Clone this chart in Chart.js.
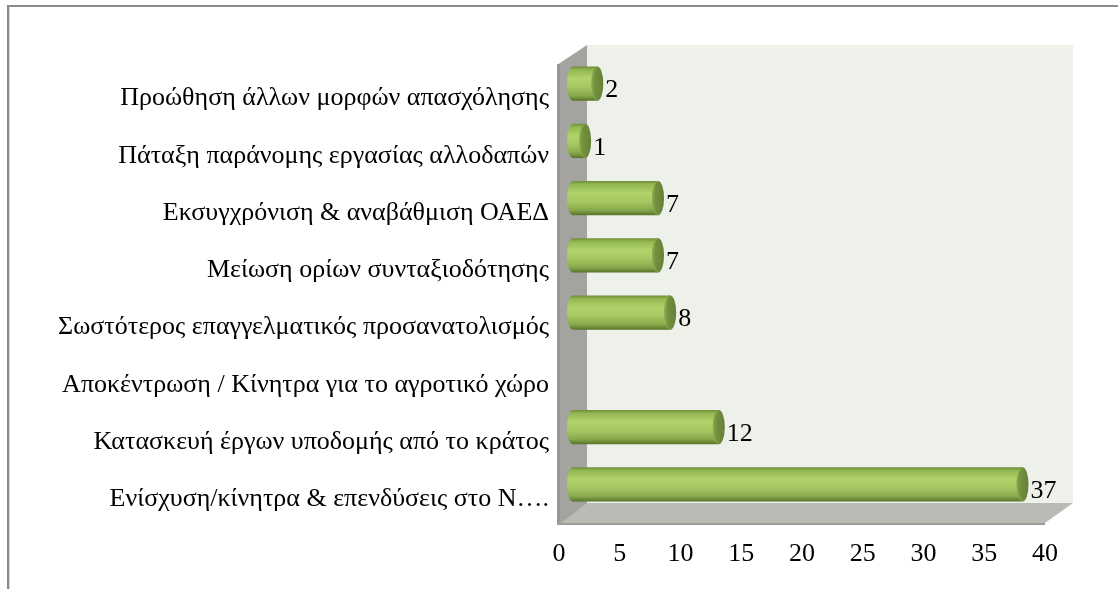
<!DOCTYPE html>
<html>
<head>
<meta charset="utf-8">
<script src="https://cdn.jsdelivr.net/npm/chart.js@4/dist/chart.umd.min.js"></script>
<style>
  html, body { margin: 0; padding: 0; background: #ffffff; }
  #wrap { width: 1118px; height: 589px; position: relative; }
</style>
</head>
<body>
<div id="wrap"><canvas id="c" width="1118" height="589"></canvas></div>
<script>
// Measures, top to bottom
const categories = [
  'Προώθηση άλλων μορφών απασχόλησης',
  'Πάταξη παράνομης εργασίας αλλοδαπών',
  'Εκσυγχρόνιση & αναβάθμιση ΟΑΕΔ',
  'Μείωση ορίων συνταξιοδότησης',
  'Σωστότερος επαγγελματικός προσανατολισμός',
  'Αποκέντρωση / Κίνητρα για το αγροτικό χώρο',
  'Κατασκευή έργων υποδομής από το κράτος',
  'Ενίσχυση/κίνητρα & επενδύσεις στο Ν….'
];
const counts = [2, 1, 7, 7, 8, null, 12, 37];

// Value axis range
const axisMin = 0;
const axisMax = 40;
const axisStep = 5;

const FONT = { family: '"Liberation Serif", "Times New Roman", serif', size: 26 };
const DX = 14, DY = 10;   // half depth of the 3D box

// Frame, walls and floor of the 3D box
const boxPlugin = {
  id: 'box3d',
  beforeDraw(chart) {
    const { ctx, chartArea: a } = chart;
    const L = a.left, R = a.right, T = a.top, B = a.bottom;
    ctx.save();
    // outer frame
    ctx.strokeStyle = '#8a8a8a';
    ctx.lineWidth = 2;
    ctx.beginPath();
    ctx.moveTo(8, 589);
    ctx.lineTo(8, 6);
    ctx.lineTo(1118, 6);
    ctx.stroke();
    ctx.strokeStyle = '#d9d9d9';
    ctx.lineWidth = 1;
    ctx.beginPath();
    ctx.moveTo(9.5, 589);
    ctx.lineTo(9.5, 7.5);
    ctx.stroke();

    // back wall
    ctx.fillStyle = '#eef0ea';
    ctx.fillRect(L + DX, T - DY, R - L, B - T);

    // side wall
    ctx.fillStyle = '#a3a49f';
    ctx.beginPath();
    ctx.moveTo(L + DX, T - DY);
    ctx.lineTo(L - DX - 2, T + DY);
    ctx.lineTo(L - DX - 2, B + DY + 2);
    ctx.lineTo(L + DX, B + DY + 2);
    ctx.closePath();
    ctx.fill();
    ctx.fillStyle = '#979893';
    ctx.fillRect(L - DX - 2, T + DY - 1, 3, B - T + 3);

    // floor
    ctx.fillStyle = '#b9bbb5';
    ctx.beginPath();
    ctx.moveTo(L + DX, B - DY);
    ctx.lineTo(R + DX, B - DY);
    ctx.lineTo(R - DX, B + DY);
    ctx.lineTo(L - DX + 2, B + DY);
    ctx.closePath();
    ctx.fill();
    ctx.fillStyle = '#9c9d98';
    ctx.fillRect(L - DX - 2, B + DY, R - L + 2, 2);
    ctx.restore();
  }
};

// Cylindrical bars and their value labels
const cylinderPlugin = {
  id: 'cylinders',
  afterDatasetsDraw(chart) {
    const { ctx } = chart;
    const meta = chart.getDatasetMeta(0);
    ctx.save();
    meta.data.forEach((bar, i) => {
      const v = counts[i];
      if (v === null || v === undefined) return;
      const p = bar.getProps(['x', 'y', 'base', 'height'], true);
      const x0 = p.base, x1 = p.x, yc = p.y, h = p.height;
      const top = yc - h / 2, ry = h / 2, rx = 6;

      const g = ctx.createLinearGradient(0, top, 0, top + h);
      g.addColorStop(0, '#6f8c37');
      g.addColorStop(0.1, '#93b752');
      g.addColorStop(0.35, '#b0d36c');
      g.addColorStop(0.6, '#a5c862');
      g.addColorStop(0.85, '#88a84a');
      g.addColorStop(1, '#56722a');

      // body with rounded left end
      ctx.fillStyle = g;
      ctx.beginPath();
      ctx.ellipse(x0, yc, rx, ry, 0, Math.PI / 2, Math.PI * 1.5);
      ctx.lineTo(x1, top);
      ctx.lineTo(x1, top + h);
      ctx.closePath();
      ctx.fill();

      // end cap
      const cg = ctx.createLinearGradient(x1 - rx, 0, x1 + rx, 0);
      cg.addColorStop(0, '#86a64b');
      cg.addColorStop(0.35, '#728f3c');
      cg.addColorStop(1, '#65803a');
      ctx.fillStyle = cg;
      ctx.beginPath();
      ctx.ellipse(x1, yc, rx, ry, 0, 0, Math.PI * 2);
      ctx.fill();
      ctx.strokeStyle = 'rgba(140,175,80,0.8)';
      ctx.lineWidth = 1;
      ctx.beginPath();
      ctx.ellipse(x1, yc, rx - 0.5, ry - 0.5, 0, Math.PI * 0.5, Math.PI * 1.5);
      ctx.stroke();

      // value label
      ctx.fillStyle = '#000000';
      ctx.font = FONT.size + 'px ' + FONT.family;
      ctx.textAlign = 'left';
      ctx.textBaseline = 'middle';
      ctx.fillText(String(v), x1 + 8, yc + 7);
    });
    ctx.restore();
  }
};

new Chart(document.getElementById('c'), {
  type: 'bar',
  data: {
    labels: categories,
    datasets: [{
      data: counts,
      backgroundColor: 'rgba(0,0,0,0)',
      borderWidth: 0,
      barPercentage: 0.6,
      categoryPercentage: 1
    }]
  },
  options: {
    indexAxis: 'y',
    responsive: false,
    animation: false,
    events: [],
    layout: { padding: { left: 0, top: 55, right: 59, bottom: 0 } },
    plugins: { legend: { display: false }, tooltip: { enabled: false } },
    scales: {
      x: {
        min: axisMin,
        max: axisMax,
        grid: { display: false, drawTicks: false },
        border: { display: false },
        ticks: {
          stepSize: axisStep,
          color: '#000000',
          font: FONT,
          padding: 26,
          labelOffset: -DX
        },
        afterFit(scale) { scale.height = 76; }
      },
      y: {
        grid: { display: false, drawTicks: false },
        border: { display: false },
        ticks: {
          color: '#000000',
          font: FONT,
          padding: 24,
          labelOffset: 15,
          autoSkip: false
        },
        afterFit(scale) { scale.width = 573; }
      }
    }
  },
  plugins: [boxPlugin, cylinderPlugin]
});
</script>
</body>
</html>
